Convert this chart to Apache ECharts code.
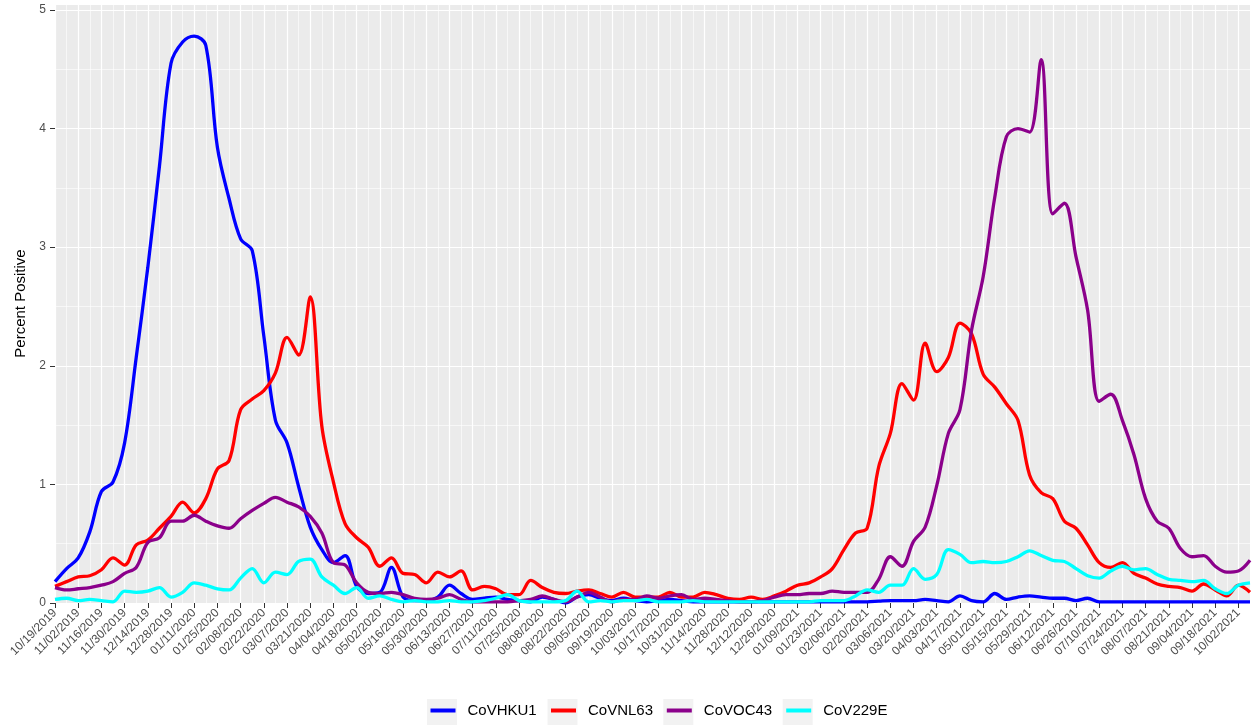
<!DOCTYPE html>
<html>
<head>
<meta charset="utf-8">
<script src="https://cdn.jsdelivr.net/npm/echarts@6/dist/echarts.min.js"></script>
<style>
html,body{margin:0;padding:0;background:#fff;}
#chart{width:1259px;height:726px;}
</style>
</head>
<body>
<div id="chart"></div>
<script>
const weeks = [
'10/19/2019','10/26/2019','11/02/2019','11/09/2019','11/16/2019','11/23/2019','11/30/2019','12/07/2019','12/14/2019','12/21/2019','12/28/2019',
'01/04/2020','01/11/2020','01/18/2020','01/25/2020','02/01/2020','02/08/2020','02/15/2020','02/22/2020','02/29/2020','03/07/2020','03/14/2020','03/21/2020','03/28/2020','04/04/2020','04/11/2020','04/18/2020','04/25/2020','05/02/2020','05/09/2020','05/16/2020','05/23/2020','05/30/2020','06/06/2020','06/13/2020','06/20/2020','06/27/2020','07/04/2020','07/11/2020','07/18/2020','07/25/2020','08/01/2020','08/08/2020','08/15/2020','08/22/2020','08/29/2020','09/05/2020','09/12/2020','09/19/2020','09/26/2020','10/03/2020','10/10/2020','10/17/2020','10/24/2020','10/31/2020','11/07/2020','11/14/2020','11/21/2020','11/28/2020','12/05/2020','12/12/2020','12/19/2020','12/26/2020',
'01/02/2021','01/09/2021','01/16/2021','01/23/2021','01/30/2021','02/06/2021','02/13/2021','02/20/2021','02/27/2021','03/06/2021','03/13/2021','03/20/2021','03/27/2021','04/03/2021','04/10/2021','04/17/2021','04/24/2021','05/01/2021','05/08/2021','05/15/2021','05/22/2021','05/29/2021','06/05/2021','06/12/2021','06/19/2021','06/26/2021','07/03/2021','07/10/2021','07/17/2021','07/24/2021','07/31/2021','08/07/2021','08/14/2021','08/21/2021','08/28/2021','09/04/2021','09/11/2021','09/18/2021','09/25/2021','10/02/2021','10/09/2021'
];

const seriesNames = ['CoVHKU1','CoVNL63','CoVOC43','CoV229E'];

const covHKU1 = [
0.18,0.29,0.38,0.60,0.94,1.02,1.35,2.07,2.83,3.68,4.55,
4.73,4.78,4.70,3.84,3.41,3.07,2.97,2.25,1.54,1.35,0.98,0.64,0.45,0.34,0.40,0.14,0.08,0.09,0.30,0.05,0.02,0.02,0.05,0.15,0.08,0.03,0.04,0.05,0.03,0.02,0.01,0.05,0.03,0.00,0.05,0.07,0.04,0.02,0.04,0.02,0.01,0.02,0.03,0.02,0.01,0.01,0.01,0.01,0.01,0.01,0.01,0.01,
0.01,0.01,0.01,0.01,0.01,0.01,0.01,0.01,0.015,0.02,0.02,0.02,0.03,0.02,0.01,0.06,0.02,0.01,0.08,0.03,0.05,0.06,0.05,0.04,0.04,0.02,0.04,0.01,0.01,0.01,0.01,0.01,0.01,0.01,0.01,0.01,0.01,0.01,0.01,0.01,0.01
];

const covNL63 = [
0.14,0.18,0.22,0.23,0.28,0.38,0.32,0.49,0.53,0.63,0.73,
0.85,0.76,0.88,1.13,1.20,1.63,1.72,1.79,1.94,2.24,2.09,2.58,1.49,1.02,0.67,0.55,0.47,0.31,0.38,0.25,0.24,0.17,0.26,0.22,0.27,0.11,0.14,0.12,0.07,0.07,0.19,0.13,0.09,0.08,0.10,0.11,0.08,0.05,0.09,0.05,0.05,0.05,0.09,0.05,0.05,0.09,0.07,0.04,0.03,0.05,0.03,0.06,
0.10,0.15,0.17,0.22,0.29,0.45,0.59,0.63,1.15,1.43,1.85,1.71,2.19,1.95,2.07,2.36,2.27,1.93,1.82,1.68,1.54,1.08,0.93,0.88,0.69,0.63,0.49,0.34,0.30,0.34,0.25,0.21,0.16,0.14,0.13,0.10,0.16,0.11,0.06,0.15,0.09
];

const covOC43 = [
0.13,0.11,0.12,0.13,0.15,0.18,0.25,0.30,0.51,0.55,0.69,
0.69,0.74,0.69,0.65,0.63,0.71,0.78,0.84,0.89,0.85,0.81,0.73,0.59,0.34,0.32,0.17,0.09,0.08,0.09,0.07,0.04,0.03,0.04,0.07,0.03,0.01,0.01,0.01,0.01,0.02,0.03,0.06,0.03,0.01,0.05,0.09,0.05,0.01,0.03,0.03,0.06,0.04,0.06,0.07,0.03,0.04,0.03,0.02,0.01,0.01,0.02,0.05,
0.07,0.07,0.08,0.08,0.10,0.09,0.09,0.09,0.20,0.39,0.31,0.52,0.64,0.99,1.43,1.63,2.30,2.75,3.42,3.93,4.00,3.97,4.58,3.28,3.37,2.92,2.47,1.70,1.76,1.54,1.25,0.88,0.69,0.63,0.46,0.39,0.40,0.31,0.26,0.27,0.36
];

const cov229E = [
0.03,0.04,0.02,0.03,0.02,0.01,0.10,0.09,0.10,0.13,0.05,
0.09,0.17,0.15,0.12,0.11,0.21,0.29,0.17,0.26,0.24,0.35,0.37,0.22,0.15,0.08,0.13,0.04,0.06,0.03,0.01,0.02,0.01,0.01,0.02,0.01,0.01,0.02,0.04,0.07,0.02,0.01,0.01,0.01,0.02,0.10,0.01,0.02,0.01,0.02,0.02,0.03,0.01,0.01,0.01,0.02,0.01,0.01,0.01,0.01,0.01,0.01,0.01,
0.01,0.01,0.01,0.02,0.02,0.02,0.06,0.11,0.09,0.15,0.15,0.29,0.20,0.24,0.45,0.41,0.34,0.35,0.34,0.35,0.39,0.44,0.40,0.36,0.35,0.29,0.23,0.21,0.27,0.31,0.28,0.29,0.24,0.20,0.19,0.18,0.19,0.12,0.08,0.15,0.17
];

const yTicks = [0,1,2,3,4,5];
const colors = ['#0000FF','#FF0000','#8B008B','#00FFFF'];

const chart = echarts.init(document.getElementById('chart'), null, {renderer:'canvas'});

const boxX = [427, 547.5, 663.3, 782.7];
const legends = seriesNames.map((n, k) => ({
  data: [n],
  left: boxX[k] + 3.5,
  top: 703,
  orient: 'horizontal',
  padding: 0,
  itemWidth: 25,
  itemHeight: 4,
  icon: 'rect',
  selectedMode: false,
  textStyle: {fontFamily: 'Liberation Sans, Arial, sans-serif', fontSize: 15, color: '#000', padding: [0,0,0,7]}
}));

const grid = {left: 55, right: 9, top: 4, bottom: 123, containLabel: false, outerBoundsMode: 'none', show: true, backgroundColor: '#EBEBEB', borderWidth: 0};

chart.setOption({
  animation: false,
  backgroundColor: '#FFFFFF',
  textStyle: {fontFamily: 'Liberation Sans, Arial, sans-serif'},
  grid: grid,
  legend: legends,
  graphic: boxX.map(x => ({type: 'rect', left: x, top: 699, shape: {width: 30, height: 26}, style: {fill: '#F2F2F2'}, z: 0, silent: true})),
  xAxis: [
    {
      type: 'category', data: weeks, boundaryGap: false,
      axisLine: {show: false},
      axisTick: {show: true, interval: 1, length: 5, lineStyle: {color: '#333333', width: 1}},
      axisLabel: {interval: 1, rotate: 45, margin: 8, fontSize: 12, color: '#4D4D4D', hideOverlap: false, fontFamily: 'Liberation Sans, Arial, sans-serif'},
      splitLine: {show: true, interval: 1, lineStyle: {color: '#FFFFFF', width: 1.2}}
    },
    {
      type: 'category', data: weeks, boundaryGap: false, position: 'bottom',
      axisLine: {show: false}, axisTick: {show: false}, axisLabel: {show: false},
      splitLine: {show: true, interval: 0, lineStyle: {color: '#FFFFFF', width: 0.6}}
    }
  ],
  yAxis: [
    {
      type: 'value', min: 0, max: 5.05, interval: 1,
      name: 'Percent Positive', nameLocation: 'middle', nameGap: 26,
      nameTextStyle: {fontSize: 15, color: '#000', fontFamily: 'Liberation Sans, Arial, sans-serif'},
      axisLine: {show: false},
      axisTick: {show: true, length: 5, lineStyle: {color: '#333333', width: 1}},
      axisLabel: {margin: 9, fontSize: 12, color: '#4D4D4D', showMaxLabel: false,
        formatter: v => (yTicks.indexOf(v) >= 0 ? String(v) : '')},
      splitLine: {show: true, lineStyle: {color: '#FFFFFF', width: 1.2}}
    },
    {
      type: 'value', min: 0, max: 5.05, interval: 0.5,
      axisLine: {show: false}, axisTick: {show: false}, axisLabel: {show: false},
      splitLine: {show: true, lineStyle: {color: '#FFFFFF', width: 0.6}}
    }
  ],
  series: [covHKU1, covNL63, covOC43, cov229E].map((d, k) => ({
    name: seriesNames[k], type: 'line', data: d, xAxisIndex: 0, yAxisIndex: 0,
    smooth: 0.35, showSymbol: false, symbol: 'none',
    lineStyle: {width: 3.3, color: colors[k]}, itemStyle: {color: colors[k]}
  }))
});
</script>
</body>
</html>
